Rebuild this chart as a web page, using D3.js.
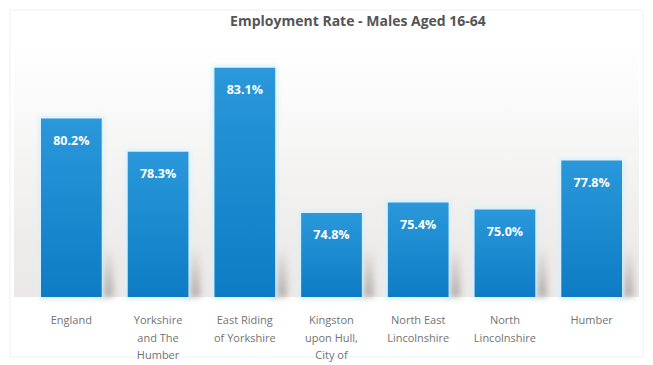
<!DOCTYPE html>
<html>
<head>
<meta charset="utf-8">
<script src="https://cdn.jsdelivr.net/npm/d3@7"></script>
<style>
  html, body { margin: 0; padding: 0; background: #ffffff; }
  svg { display: block; }
</style>
</head>
<body>
<svg id="chart" width="653" height="365"></svg>
<script>
// Employment rate, males aged 16-64, by area
const categories = [
  ["England"],
  ["Yorkshire", "and The", "Humber"],
  ["East Riding", "of Yorkshire"],
  ["Kingston", "upon Hull,", "City of"],
  ["North East", "Lincolnshire"],
  ["North", "Lincolnshire"],
  ["Humber"]
];
const rates = [80.2, 78.3, 83.1, 74.8, 75.4, 75.0, 77.8];
const chartTitle = "Employment Rate - Males Aged 16-64";

const W = 653, H = 365;
const svg = d3.select("#chart");
const defs = svg.append("defs");

// wall gradient behind the bars
const wall = defs.append("linearGradient").attr("id", "wall")
  .attr("x1", 0).attr("y1", 0).attr("x2", 0).attr("y2", 1);
wall.append("stop").attr("offset", "0%").attr("stop-color", "#ffffff");
wall.append("stop").attr("offset", "25%").attr("stop-color", "#fafafa");
wall.append("stop").attr("offset", "80%").attr("stop-color", "#eeecea");
wall.append("stop").attr("offset", "100%").attr("stop-color", "#ebe9e8");

// bar fill gradient
const barGrad = defs.append("linearGradient").attr("id", "barFill")
  .attr("x1", 0).attr("y1", 0).attr("x2", 0).attr("y2", 1);
barGrad.append("stop").attr("offset", "0%").attr("stop-color", "#2a98da");
barGrad.append("stop").attr("offset", "100%").attr("stop-color", "#0d7cc4");

// shadow fades out upward
const shadeGrad = defs.append("linearGradient").attr("id", "shadeFill")
  .attr("x1", 0).attr("y1", 0).attr("x2", 0).attr("y2", 1);
shadeGrad.append("stop").attr("offset", "0%").attr("stop-color", "#a8a09c").attr("stop-opacity", 0);
shadeGrad.append("stop").attr("offset", "100%").attr("stop-color", "#a8a09c").attr("stop-opacity", 0.8);

const glow = defs.append("filter").attr("id", "glow")
  .attr("x", "-30%").attr("y", "-30%").attr("width", "160%").attr("height", "160%");
glow.append("feGaussianBlur").attr("stdDeviation", 2.5);

const shade = defs.append("filter").attr("id", "shade")
  .attr("x", "-100%").attr("y", "-50%").attr("width", "300%").attr("height", "200%");
shade.append("feGaussianBlur").attr("stdDeviation", 3);

// chart frame
svg.append("rect").attr("x", 10).attr("y", 10).attr("width", W - 20).attr("height", H - 18)
  .attr("fill", "#ffffff").attr("stroke", "#f0f0f0");

const baseY = 297;
const x = d3.scaleBand().domain(d3.range(categories.length))
  .range([28, 635]).paddingInner(0.3).paddingOuter(0.15);
const y = d3.scaleLinear().domain([70, 85]).range([baseY, 34.5]);

// back wall and floor
svg.append("rect").attr("x", 14).attr("y", 40).attr("width", W - 28).attr("height", baseY - 40)
  .attr("fill", "url(#wall)");
svg.append("rect").attr("x", 14).attr("y", baseY + 1).attr("width", W - 28).attr("height", H - baseY - 12)
  .attr("fill", "#ffffff");

// title
svg.append("text")
  .attr("x", 358).attr("y", 26)
  .attr("text-anchor", "middle")
  .attr("font-family", "'Open Sans', 'Liberation Sans', sans-serif")
  .attr("font-weight", "bold")
  .attr("font-size", 14)
  .attr("fill", "#555555")
  .text(chartTitle);

const g = svg.append("g");

// narrow shadow cast on the wall just right of each bar
g.selectAll("rect.shadow").data(rates).join("rect")
  .attr("class", "shadow")
  .attr("x", (d, i) => x(i) + x.bandwidth() - 4)
  .attr("y", baseY - 50)
  .attr("width", 16)
  .attr("height", 50)
  .attr("fill", "url(#shadeFill)")
  .attr("filter", "url(#shade)");

// soft halo around bars
g.selectAll("rect.halo").data(rates).join("rect")
  .attr("class", "halo")
  .attr("x", (d, i) => x(i) - 2)
  .attr("y", d => y(d) - 2)
  .attr("width", x.bandwidth() + 4)
  .attr("height", d => baseY - y(d) + 4)
  .attr("fill", "#d4f0fd")
  .attr("filter", "url(#glow)");

g.selectAll("rect.bar").data(rates).join("rect")
  .attr("class", "bar")
  .attr("x", (d, i) => x(i))
  .attr("y", d => y(d))
  .attr("width", x.bandwidth())
  .attr("height", d => baseY - y(d))
  .attr("fill", "url(#barFill)");

// value labels
g.selectAll("text.val").data(rates).join("text")
  .attr("class", "val")
  .attr("x", (d, i) => x(i) + x.bandwidth() / 2)
  .attr("y", d => y(d) + 26)
  .attr("text-anchor", "middle")
  .attr("font-family", "'Open Sans', 'Liberation Sans', sans-serif")
  .attr("font-weight", "bold")
  .attr("font-size", 12.5)
  .attr("fill", "#ffffff")
  .text(d => d.toFixed(1) + "%");

// category labels
const cat = g.selectAll("text.cat").data(categories).join("text")
  .attr("class", "cat")
  .attr("text-anchor", "middle")
  .attr("font-family", "'Open Sans', 'Liberation Sans', sans-serif")
  .attr("font-size", 11)
  .attr("fill", "#737373");
cat.each(function(lines, i) {
  const t = d3.select(this);
  lines.forEach((ln, k) => {
    t.append("tspan")
      .attr("x", x(i) + x.bandwidth() / 2)
      .attr("y", 324 + k * 17.5)
      .text(ln);
  });
});
</script>
</body>
</html>
